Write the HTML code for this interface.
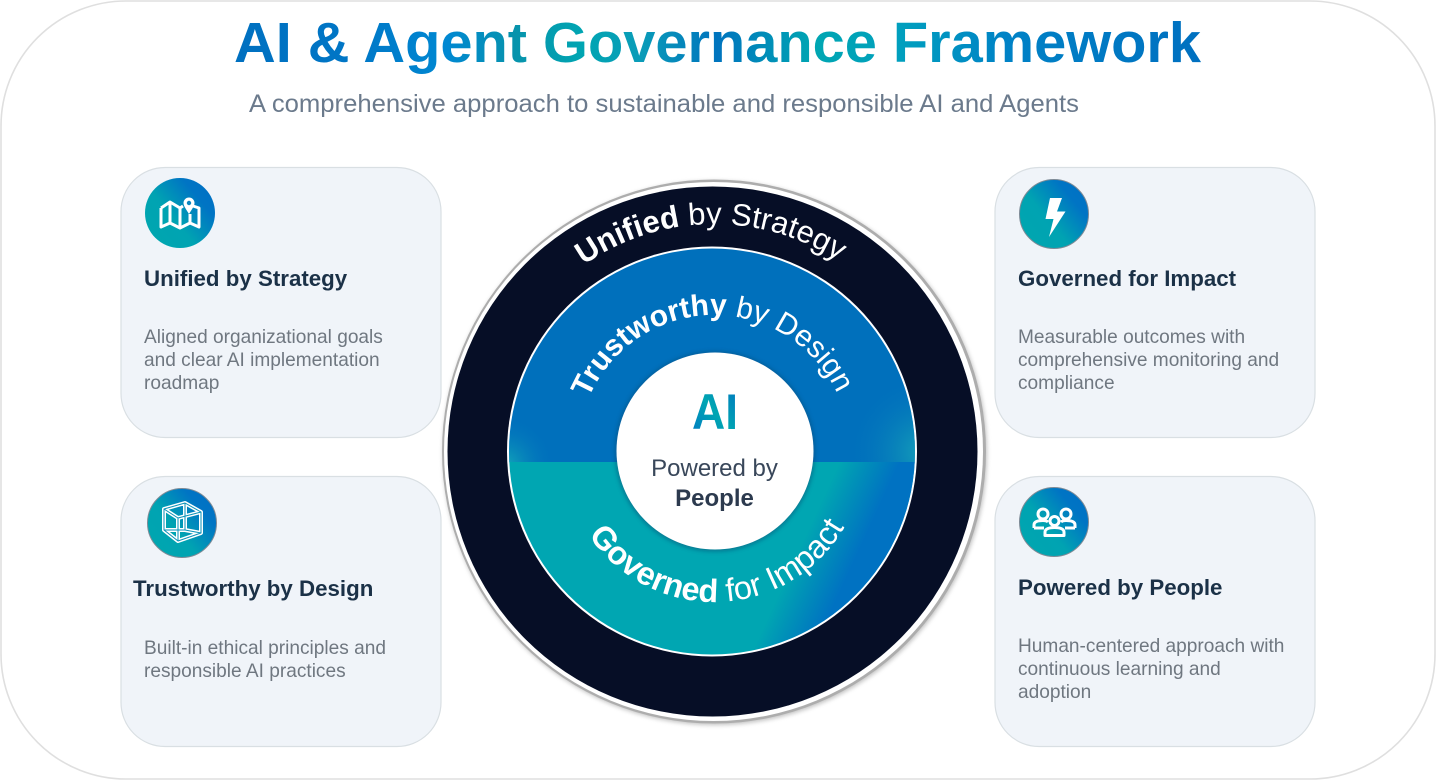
<!DOCTYPE html>
<html><head><meta charset="utf-8">
<style>
html,body{margin:0;padding:0;background:#fff;width:1436px;height:780px;overflow:hidden}
svg{display:block}
text{font-family:"Liberation Sans",Arial,sans-serif}
.h{font-size:22.3px;font-weight:700;fill:#1b3147}
.b{font-size:19.1px;fill:#6f7780}
</style></head><body>
<svg width="1436" height="780" viewBox="0 0 1436 780" xmlns="http://www.w3.org/2000/svg">
<defs>
<linearGradient id="tg" gradientUnits="userSpaceOnUse" x1="234" y1="0" x2="1201" y2="0">
<stop offset="0" stop-color="#0070c0"/><stop offset=".12" stop-color="#0076c6"/>
<stop offset=".22" stop-color="#0088d2"/><stop offset=".29" stop-color="#0793ac"/>
<stop offset=".36" stop-color="#00a5b2"/><stop offset=".42" stop-color="#0a9cb8"/>
<stop offset=".5" stop-color="#0074be"/><stop offset=".6" stop-color="#00a6b2"/>
<stop offset=".69" stop-color="#009fbe"/><stop offset=".8" stop-color="#0082c6"/>
<stop offset="1" stop-color="#0070c0"/></linearGradient>
<linearGradient id="ic" x1=".1" y1=".85" x2=".9" y2=".2">
<stop offset="0" stop-color="#00a6b0"/><stop offset=".4" stop-color="#00a3b2"/><stop offset=".85" stop-color="#0074c4"/><stop offset="1" stop-color="#0072c4"/></linearGradient>
<linearGradient id="ai" x1="0" y1="1" x2="1" y2="0">
<stop offset="0" stop-color="#0076c4"/><stop offset=".5" stop-color="#00a6b2"/><stop offset="1" stop-color="#0074c0"/></linearGradient>
<radialGradient id="tl" gradientUnits="userSpaceOnUse" cx="505" cy="465" r="50"><stop offset="0" stop-color="#12a8b8"/><stop offset="1" stop-color="#0070bc" stop-opacity="0"/></radialGradient>
<radialGradient id="tr" gradientUnits="userSpaceOnUse" cx="925" cy="452" r="78"><stop offset="0" stop-color="#16a2b8"/><stop offset="1" stop-color="#0070bc" stop-opacity="0"/></radialGradient>
<linearGradient id="br" gradientUnits="userSpaceOnUse" x1="808" y1="530" x2="858" y2="553">
<stop offset="0" stop-color="#0070c0" stop-opacity="0"/><stop offset="1" stop-color="#0072c2"/></linearGradient>
<clipPath id="cmid"><circle cx="712" cy="451.5" r="203"/></clipPath>
<filter id="sh" x="-10%" y="-10%" width="120%" height="120%"><feGaussianBlur stdDeviation="2.2"/></filter>
<path id="p1" d="M487 451A227 227 0 0 1 941 451" fill="none"/>
<path id="p2" d="M578 451A136 136 0 0 1 850 451" fill="none"/>
<path id="p3" d="M563 451A151 151 0 0 0 865 451" fill="none"/>
</defs>

<rect x="1" y="1" width="1434" height="778" rx="125" ry="125" fill="#fff" stroke="#dfdfdf" stroke-width="1.6"/>

<text x="234" y="62" font-size="57" font-weight="700" fill="url(#tg)" textLength="967" lengthAdjust="spacingAndGlyphs">AI &amp; Agent Governance Framework</text>
<text x="249" y="112" font-size="25" fill="#6b7a8c" textLength="830" lengthAdjust="spacingAndGlyphs">A comprehensive approach to sustainable and responsible AI and Agents</text>

<g fill="#f0f4f9" stroke="#d9dfe3" stroke-width="1.2">
<rect x="121" y="167.500" width="320" height="270" rx="44"/>
<rect x="121" y="476.500" width="320" height="270" rx="44"/>
<rect x="995" y="167.500" width="320" height="270" rx="44"/>
<rect x="995" y="476.500" width="320" height="270" rx="44"/>
</g>

<text class="h" x="144" y="286">Unified by Strategy</text>
<text class="b" x="144" y="343">Aligned organizational goals</text>
<text class="b" x="144" y="366">and clear AI implementation</text>
<text class="b" x="144" y="389">roadmap</text>

<text class="h" x="133" y="596">Trustworthy by Design</text>
<text class="b" x="144" y="654">Built-in ethical principles and</text>
<text class="b" x="144" y="677">responsible AI practices</text>

<text class="h" x="1018" y="286">Governed for Impact</text>
<text class="b" x="1018" y="343">Measurable outcomes with</text>
<text class="b" x="1018" y="366">comprehensive monitoring and</text>
<text class="b" x="1018" y="389">compliance</text>

<text class="h" x="1018" y="595">Powered by People</text>
<text class="b" x="1018" y="652">Human-centered approach with</text>
<text class="b" x="1018" y="675">continuous learning and</text>
<text class="b" x="1018" y="698">adoption</text>

<!-- icons -->
<circle cx="180" cy="213" r="35" fill="url(#ic)"/>
<g fill="none" stroke="#fff" stroke-width="3" stroke-linejoin="round">
<path d="M161 208V227L170 223L180 228L190 223L199 227V208L193 206M183 206L180 208L170 202L161 208M170 202V223M180 208V228M190 214V223"/>
<path d="M189 214C186 209 183.500 206 183.500 203A5.500 5.500 0 0 1 194.500 203C194.500 206 192 209 189 214Z" fill="#fff" stroke="none"/>
<circle cx="189" cy="203" r="2.200" fill="#0a86c0" stroke="none"/>
</g>

<circle cx="182" cy="523" r="34.500" fill="url(#ic)" stroke="#7d8a96" stroke-width="1"/>
<g fill="none" stroke-linejoin="round">
<path d="M164 509L185 503L201 512V533L178 541L164 530ZM164 509L178 518L201 512M178 518V541M185 503V530L164 530M185 530L201 533" stroke="#fff" stroke-width="4"/>
<path d="M164 509L185 503L201 512V533L178 541L164 530ZM164 509L178 518L201 512M178 518V541M185 503V530L164 530M185 530L201 533" stroke="#0a92b8" stroke-width="1"/>
</g>

<circle cx="1054" cy="214" r="34.500" fill="url(#ic)" stroke="#7d8a96" stroke-width="1"/>
<path d="M1050 198H1062L1057 211.500H1065.500L1049 237L1053.500 219H1045.500Z" fill="#fff"/>

<circle cx="1054" cy="522" r="34.500" fill="url(#ic)" stroke="#7d8a96" stroke-width="1"/>
<g fill="none" stroke="#fff" stroke-width="3" stroke-linejoin="round">
<circle cx="1043" cy="514" r="5"/><circle cx="1066" cy="514" r="5"/><circle cx="1054.500" cy="521" r="4.500"/>
<path d="M1034 528V525C1034 522 1037 520.500 1043 520.500C1045 520.500 1047 521 1048 522M1075 528V525C1075 522 1072 520.500 1066 520.500C1064 520.500 1062 521 1061 522M1034 528H1044M1065 528H1075"/>
<path d="M1045 535.500V532C1045 529 1049 527.500 1054.500 527.500C1060 527.500 1064 529 1064 532V535.500Z"/>
</g>

<!-- central diagram -->
<circle cx="715" cy="453" r="272" fill="#8f8f8f" opacity=".55" filter="url(#sh)"/>
<circle cx="714" cy="451.500" r="272" fill="#adadad"/>
<circle cx="713.500" cy="451.500" r="269.500" fill="#fff"/>
<circle cx="712.500" cy="451.500" r="265" fill="#060e26"/>
<circle cx="712" cy="451.500" r="205" fill="#fff"/>
<g clip-path="url(#cmid)">
<rect x="505" y="245" width="415" height="217" fill="#0070bc"/>
<rect x="505" y="245" width="415" height="217" fill="url(#tl)"/>
<rect x="505" y="245" width="415" height="217" fill="url(#tr)"/>
<rect x="505" y="462" width="415" height="195" fill="#00a6b2"/>
<rect x="505" y="462" width="415" height="195" fill="url(#br)"/>
</g>
<circle cx="715" cy="451.500" r="100" fill="#0b4a70" opacity=".5" filter="url(#sh)"/>
<circle cx="715" cy="451" r="98.500" fill="#fff"/>

<text font-size="31" fill="#fff" text-anchor="middle"><textPath href="#p1" startOffset="49.5%"><tspan font-weight="700">Unified</tspan> by Strategy</textPath></text>
<text font-size="30" fill="#fff" text-anchor="middle"><textPath href="#p2" startOffset="49.4%"><tspan font-weight="700">Trustworthy</tspan> by Design</textPath></text>
<text font-size="32.5" fill="#fff" text-anchor="middle"><textPath href="#p3" startOffset="51%"><tspan font-weight="700">Governed</tspan> for Impact</textPath></text>

<text x="692" y="429" font-size="50" font-weight="700" fill="url(#ai)" textLength="46" lengthAdjust="spacingAndGlyphs">AI</text>
<text x="714.500" y="476" font-size="24" fill="#39475a" text-anchor="middle">Powered by</text>
<text x="714.500" y="506" font-size="24" font-weight="700" fill="#2c3a4e" text-anchor="middle">People</text>
</svg>
</body></html>
